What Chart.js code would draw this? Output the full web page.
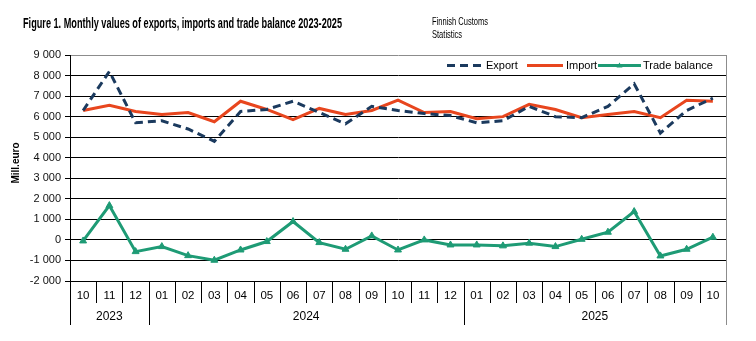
<!DOCTYPE html>
<html>
<head>
<meta charset="utf-8">
<script src="https://cdn.jsdelivr.net/npm/chart.js@4/dist/chart.umd.min.js"></script>
<style>
  html, body { margin: 0; padding: 0; background: #fff; }
  #wrap { width: 756px; height: 341px; }
</style>
</head>
<body>
<div id="wrap"><canvas id="tradeChart" width="756" height="341"></canvas></div>
<script>
// periods shown on the x axis (year-month)
const periods = ['2023-10', '2023-11', '2023-12',
    '2024-01', '2024-02', '2024-03', '2024-04', '2024-05', '2024-06',
    '2024-07', '2024-08', '2024-09', '2024-10', '2024-11', '2024-12',
    '2025-01', '2025-02', '2025-03', '2025-04', '2025-05', '2025-06',
    '2025-07', '2025-08', '2025-09', '2025-10'];

// values in million euro
const exportValues = [6300, 8200, 5700, 5800, 5400, 4800, 6250, 6350, 6750, 6200, 5650, 6500, 6300,
    6150, 6050, 5700, 5800, 6500, 6000, 5950, 6500, 7600, 5200, 6300, 6900];
const importValues = [6300, 6550, 6250, 6100, 6200, 5750, 6750, 6350, 5850, 6400, 6100, 6300, 6800,
    6200, 6250, 5900, 6000, 6600, 6350, 5950, 6100, 6250, 5950, 6800, 6750];
const balanceValues = [-50, 1670, -570, -325, -765, -990, -490, -80, 895, -130, -455, 195, -490,
    0, -245, -245, -290, -160, -325, 30, 375, 1380, -780, -455, 130];

const yMin = -2000;
const yMax = 9000;
const yStep = 1000;

const titleText = 'Figure 1. Monthly values of exports, imports and trade balance 2023-2025';
const sourceLines = ['Finnish Customs', 'Statistics'];
const yAxisTitle = 'Mill.euro';

const navy = '#1b3a5e';
const orange = '#e8461e';
const green = '#1e9b75';
const plainFont = '"Liberation Sans", Arial, sans-serif';

function formatThousands(v) {
    const s = Math.abs(v).toString().replace(/\B(?=(\d{3})+(?!\d))/g, ' ');
    return (v < 0 ? '-' : '') + s;
}

// draws text squeezed horizontally (narrow face is not installed)
function fillNarrow(ctx, text, x, y, sx) {
    ctx.save();
    ctx.translate(x, y);
    ctx.scale(sx, 1);
    ctx.fillText(text, 0, 0);
    ctx.restore();
}

const decorations = {
    id: 'decorations',
    afterDraw(chart) {
        const ctx = chart.ctx;
        const area = chart.chartArea;
        const x = chart.scales.x;
        ctx.save();

        // title and source
        ctx.fillStyle = '#000';
        ctx.textAlign = 'left';
        ctx.textBaseline = 'alphabetic';
        ctx.font = 'bold 14px ' + plainFont;
        fillNarrow(ctx, titleText, 23, 28, 319 / ctx.measureText(titleText).width);
        ctx.font = '11.5px ' + plainFont;
        const srcScale = 56 / ctx.measureText(sourceLines[0]).width;
        fillNarrow(ctx, sourceLines[0], 432, 25, srcScale);
        fillNarrow(ctx, sourceLines[1], 432, 37.5, srcScale);

        // y axis title
        ctx.save();
        ctx.translate(19, 163);
        ctx.rotate(-Math.PI / 2);
        ctx.textAlign = 'center';
        ctx.font = 'bold 10px ' + plainFont;
        ctx.fillText(yAxisTitle, 0, 0);
        ctx.restore();

        // right border of plot area
        ctx.strokeStyle = '#8c8c8c';
        ctx.lineWidth = 1;
        ctx.beginPath();
        ctx.moveTo(Math.round(area.right) + 0.5, area.top);
        ctx.lineTo(Math.round(area.right) + 0.5, area.bottom);
        ctx.stroke();

        // category axis: month cells and year groups
        const n = periods.length;
        const rowH = 22;
        for (let i = 0; i <= n; i++) {
            let px;
            if (i === 0) px = area.left;
            else if (i === n) px = area.right;
            else px = (x.getPixelForValue(i - 1) + x.getPixelForValue(i)) / 2;
            const newYear = i === 0 || i === n || periods[i].slice(0, 4) !== periods[i - 1].slice(0, 4);
            const len = newYear ? rowH * 2 : rowH;
            px = Math.round(px) + 0.5;
            ctx.strokeStyle = (i === n) ? '#8c8c8c' : '#000';
            ctx.beginPath();
            ctx.moveTo(px, area.bottom);
            ctx.lineTo(px, area.bottom + len);
            ctx.stroke();
        }

        ctx.fillStyle = '#000';
        ctx.textAlign = 'center';
        ctx.textBaseline = 'middle';
        ctx.font = '11.5px ' + plainFont;
        periods.forEach((p, i) => {
            ctx.fillText(p.slice(5), x.getPixelForValue(i), area.bottom + 15);
        });

        ctx.font = '12px ' + plainFont;
        let start = 0;
        for (let i = 1; i <= n; i++) {
            if (i === n || periods[i].slice(0, 4) !== periods[start].slice(0, 4)) {
                const mid = (x.getPixelForValue(start) + x.getPixelForValue(i - 1)) / 2;
                ctx.fillText(periods[start].slice(0, 4), mid, area.bottom + 36);
                start = i;
            }
        }

        // legend
        ctx.textAlign = 'left';
        ctx.font = '11px ' + plainFont;
        const legendY = 65.5;
        const items = [
            { ds: 0, x0: 447, x1: 482, tx: 486 },
            { ds: 1, x0: 527, x1: 563, tx: 566 },
            { ds: 2, x0: 598, x1: 641, tx: 643 }
        ];
        items.forEach(it => {
            const ds = chart.data.datasets[it.ds];
            ctx.strokeStyle = ds.borderColor;
            ctx.lineWidth = ds.borderWidth;
            ctx.setLineDash(ds.borderDash || []);
            ctx.beginPath();
            ctx.moveTo(it.x0, legendY);
            ctx.lineTo(it.x1, legendY);
            ctx.stroke();
            ctx.setLineDash([]);
            if (ds.pointStyle === 'triangle') {
                const cx = (it.x0 + it.x1) / 2;
                ctx.fillStyle = ds.borderColor;
                ctx.beginPath();
                ctx.moveTo(cx, legendY - 3);
                ctx.lineTo(cx + 3, legendY + 2);
                ctx.lineTo(cx - 3, legendY + 2);
                ctx.closePath();
                ctx.fill();
            }
            ctx.fillStyle = '#000';
            ctx.fillText(ds.label, it.tx, legendY);
        });

        ctx.restore();
    }
};

new Chart(document.getElementById('tradeChart').getContext('2d'), {
    type: 'line',
    data: {
        labels: periods,
        datasets: [{
            label: 'Export',
            data: exportValues,
            borderColor: navy,
            backgroundColor: navy,
            borderWidth: 3,
            borderDash: [8, 5],
            pointRadius: 0,
            tension: 0,
            fill: false
        }, {
            label: 'Import',
            data: importValues,
            borderColor: orange,
            backgroundColor: orange,
            borderWidth: 3,
            pointRadius: 0,
            tension: 0,
            fill: false
        }, {
            label: 'Trade balance',
            data: balanceValues,
            borderColor: green,
            backgroundColor: green,
            borderWidth: 3,
            pointStyle: 'triangle',
            pointRadius: 4,
            pointBorderWidth: 1,
            tension: 0,
            fill: false
        }]
    },
    options: {
        responsive: false,
        animation: false,
        devicePixelRatio: 1,
        layout: { padding: { top: 55, left: 0, right: 30, bottom: 0 } },
        plugins: {
            legend: { display: false },
            title: { display: false },
            tooltip: { enabled: false }
        },
        scales: {
            x: {
                offset: true,
                grid: { display: false },
                border: { display: true, color: '#000' },
                ticks: { display: false },
                afterFit: s => { s.height = 60; }
            },
            y: {
                min: yMin,
                max: yMax,
                ticks: {
                    stepSize: yStep,
                    color: '#111',
                    padding: 4,
                    font: { family: plainFont, size: 11 },
                    callback: v => formatThousands(v)
                },
                grid: {
                    color: ctx => (ctx.tick && ctx.tick.value === yMax) ? '#8c8c8c' : '#000',
                    tickColor: '#000',
                    tickLength: 5,
                    lineWidth: 1
                },
                border: { display: true, color: '#000' },
                afterFit: s => { s.width = 70; }
            }
        }
    },
    plugins: [decorations]
});
</script>
</body>
</html>
